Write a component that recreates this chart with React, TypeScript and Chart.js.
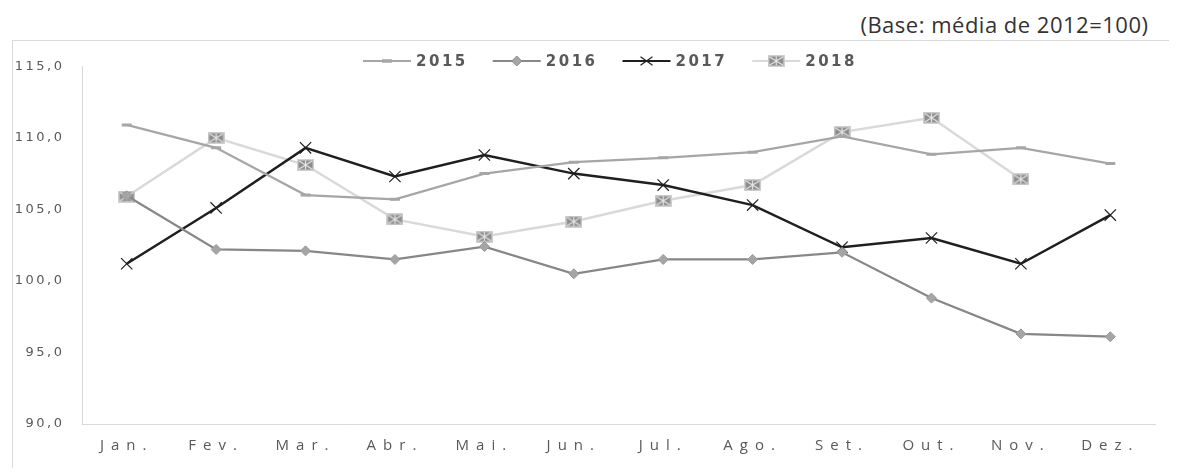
import React, { useEffect, useRef } from "react";
import { Chart, registerables, CategoryScale, LinearScale } from "chart.js";

Chart.register(...registerables);

const months = ["Jan.", "Fev.", "Mar.", "Abr.", "Mai.", "Jun.", "Jul.", "Ago.", "Set.", "Out.", "Nov.", "Dez."];
const seriesNames = ["2015", "2016", "2017", "2018"];
const s2015 = [110.9, 109.3, 106.0, 105.7, 107.5, 108.3, 108.6, 109.0, 110.1, 108.85, 109.3, 108.2];
const s2016 = [105.95, 102.2, 102.1, 101.5, 102.4, 100.5, 101.5, 101.5, 102.0, 98.8, 96.3, 96.1];
const s2017 = [101.2, 105.1, 109.3, 107.3, 108.8, 107.5, 106.7, 105.3, 102.35, 103.0, 101.2, 104.6];
const s2018 = [105.9, 110.0, 108.1, 104.3, 103.1, 104.15, 105.6, 106.7, 110.4, 111.4, 107.1, null];
const yTicks = [90, 95, 100, 105, 110, 115];

class SpacedCategory extends CategoryScale {
  static id = "spacedCategory";
  static defaults = CategoryScale.defaults;
  drawLabels(area: any) {
    const ctx: any = this.ctx;
    ctx.save();
    ctx.letterSpacing = "7px";
    super.drawLabels(area);
    ctx.restore();
  }
}
class SpacedLinear extends LinearScale {
  static id = "spacedLinear";
  static defaults = LinearScale.defaults;
  drawLabels(area: any) {
    const ctx: any = this.ctx;
    ctx.save();
    ctx.letterSpacing = "2.5px";
    super.drawLabels(area);
    ctx.restore();
  }
}
Chart.register(SpacedCategory as any, SpacedLinear as any);

function makeBoxMarker() {
  const c = document.createElement("canvas");
  c.width = 17;
  c.height = 12;
  const g = c.getContext("2d")!;
  g.fillStyle = "#d0d0d0";
  g.fillRect(0, 0, 17, 12);
  g.fillStyle = "#8c8c8c";
  g.fillRect(1.5, 1.5, 14, 9);
  g.strokeStyle = "#e6e6e6";
  g.lineWidth = 1.2;
  g.beginPath();
  g.moveTo(2, 2);
  g.lineTo(15, 10);
  g.moveTo(15, 2);
  g.lineTo(2, 10);
  g.moveTo(8.5, 1.5);
  g.lineTo(8.5, 10.5);
  g.stroke();
  return c;
}

function drawMarker(ctx: CanvasRenderingContext2D, idx: number, x: number, y: number, img: HTMLCanvasElement) {
  ctx.save();
  if (idx === 0) {
    ctx.strokeStyle = "#a6a6a6";
    ctx.lineWidth = 3.5;
    ctx.beginPath();
    ctx.moveTo(x - 5, y);
    ctx.lineTo(x + 5, y);
    ctx.stroke();
  } else if (idx === 1) {
    const r = 5;
    ctx.fillStyle = "#a5a5a5";
    ctx.strokeStyle = "#8c8c8c";
    ctx.lineWidth = 1;
    ctx.beginPath();
    ctx.moveTo(x, y - r);
    ctx.lineTo(x + r, y);
    ctx.lineTo(x, y + r);
    ctx.lineTo(x - r, y);
    ctx.closePath();
    ctx.fill();
    ctx.stroke();
  } else if (idx === 2) {
    const r = 6;
    ctx.strokeStyle = "#1f1f1f";
    ctx.lineWidth = 1.2;
    ctx.beginPath();
    ctx.moveTo(x - r, y - r * 0.7);
    ctx.lineTo(x + r, y + r * 0.7);
    ctx.moveTo(x + r, y - r * 0.7);
    ctx.lineTo(x - r, y + r * 0.7);
    ctx.stroke();
  } else {
    ctx.drawImage(img, x - img.width / 2, y - img.height / 2);
  }
  ctx.restore();
}

const lineColors = ["#a6a6a6", "#878787", "#1f1f1f", "#d9d9d9"];

export default function App() {
  const ref = useRef<HTMLCanvasElement>(null);
  useEffect(() => {
    const boxImg = makeBoxMarker();
    const legendPlugin = {
      id: "customLegend",
      afterDraw(chart: any) {
        const ctx: any = chart.ctx;
        ctx.save();
        ctx.font = "bold 15px 'DejaVu Sans'";
        ctx.letterSpacing = "2.5px";
        const lineLen = 48;
        const gap = 5;
        const itemGap = 25;
        const widths = seriesNames.map((n) => ctx.measureText(n).width);
        const total = widths.reduce((a, w) => a + lineLen + gap + w, 0) + itemGap * (seriesNames.length - 1);
        let x = 597 - total / 2;
        const y = 20;
        seriesNames.forEach((n, i) => {
          ctx.strokeStyle = lineColors[i];
          ctx.lineWidth = 2;
          ctx.beginPath();
          ctx.moveTo(x, y);
          ctx.lineTo(x + lineLen, y);
          ctx.stroke();
          drawMarker(ctx, i, x + lineLen / 2, y, boxImg);
          ctx.fillStyle = "#595959";
          ctx.textBaseline = "middle";
          ctx.textAlign = "left";
          ctx.fillText(n, x + lineLen + gap, y + 1);
          x += lineLen + gap + widths[i] + itemGap;
        });
        ctx.restore();
      },
    };
    const chart = new Chart(ref.current!, {
      type: "line",
      data: {
        labels: months,
        datasets: [
          {
            label: seriesNames[0],
            data: s2015,
            borderColor: lineColors[0],
            borderWidth: 2.25,
            pointStyle: "line",
            pointRadius: 5,
            pointBorderColor: "#a6a6a6",
            pointBorderWidth: 3,
            tension: 0,
          },
          {
            label: seriesNames[1],
            data: s2016,
            borderColor: lineColors[1],
            borderWidth: 2.25,
            pointStyle: "rectRot",
            pointRadius: 5,
            pointBackgroundColor: "#a5a5a5",
            pointBorderColor: "#999999",
            pointBorderWidth: 1,
            tension: 0,
          },
          {
            label: seriesNames[2],
            data: s2017,
            borderColor: lineColors[2],
            borderWidth: 2.5,
            pointStyle: "crossRot",
            pointRadius: 8,
            pointBorderColor: "#1f1f1f",
            pointBorderWidth: 1.2,
            tension: 0,
          },
          {
            label: seriesNames[3],
            data: s2018,
            borderColor: lineColors[3],
            borderWidth: 2.5,
            pointStyle: boxImg as any,
            pointRadius: 6,
            tension: 0,
          },
        ],
      },
      options: {
        responsive: false,
        animation: false,
        devicePixelRatio: 1,
        layout: { padding: { top: 21, right: 14, left: 0, bottom: 0 } },
        plugins: { legend: { display: false }, tooltip: { enabled: false } },
        scales: {
          x: {
            type: "spacedCategory" as any,
            offset: true,
            grid: { display: false, drawTicks: false },
            border: { display: true, color: "#d9d9d9", width: 1 },
            ticks: { padding: 13, color: "#595959", font: { family: "'Open Sans'", size: 15 }, maxRotation: 0, autoSkip: false },
            afterFit: (s: any) => {
              s.height = 44;
            },
          },
          y: {
            type: "spacedLinear" as any,
            min: yTicks[0],
            max: yTicks[yTicks.length - 1],
            ticks: {
              stepSize: 5,
              callback: (v: any) => Number(v).toFixed(1).replace(".", ","),
              padding: 17.5,
              color: "#595959",
              font: { family: "'DejaVu Sans'", size: 13 },
            },
            grid: { display: false, drawTicks: false },
            border: { display: true, color: "#d9d9d9", width: 1 },
            afterFit: (s: any) => {
              s.width = 69;
            },
          },
        },
      } as any,
      plugins: [legendPlugin],
    });
    return () => chart.destroy();
  }, []);
  return (
    <div>
      <div
        style={{
          height: 32,
          lineHeight: "32px",
          textAlign: "right",
          paddingRight: 20.5,
          fontFamily: "'Open Sans'",
          fontSize: 22,
          letterSpacing: "0.5px",
          color: "#333333",
        }}
      >
        (Base: média de 2012=100)
      </div>
      <div
        style={{
          marginLeft: 4,
          borderTop: "1px solid #d9d9d9",
          borderLeft: "1px solid #d9d9d9",
          height: 427,
          width: 1156,
        }}
      >
        <canvas ref={ref} width={1156} height={427} style={{ display: "block" }} />
      </div>
    </div>
  );
}
